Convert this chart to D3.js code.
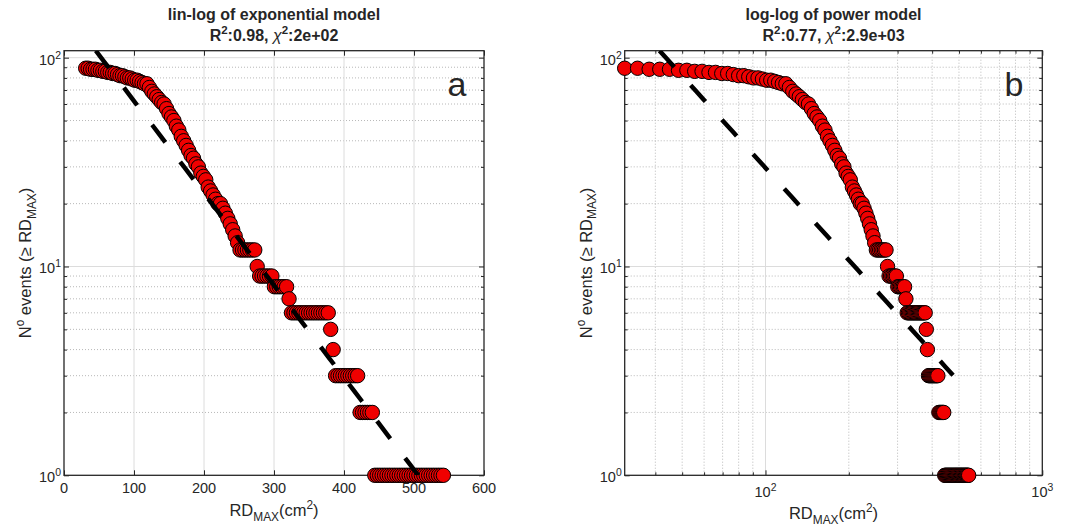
<!DOCTYPE html>
<html>
<head>
<meta charset="utf-8">
<script src="https://cdn.jsdelivr.net/npm/d3@7"></script>
<style>
  html, body { margin: 0; padding: 0; background: #fff; }
  svg text { font-family: "Liberation Sans", Arial, Helvetica, sans-serif; fill: #262626; }
</style>
</head>
<body>
<div id="chart"></div>
<script>
// RD_MAX (cm^2) sample positions and N events (>= RD_MAX)
const rdMax = [31, 34.5, 38, 41.5, 45, 48.5, 52, 55.5, 59, 62.5,
  66, 69.5, 73, 76.5, 80, 83.5, 87, 90.5, 94, 97.5,
  101, 104.5, 108, 111.5, 115, 118.5, 122, 125.5, 129, 132.5,
  136, 139.5, 143, 146.5, 150, 153.5, 157, 160.5, 164, 167.5,
  171, 174.5, 178, 181.5, 185, 188.5, 192, 195.5, 199, 202.5,
  206, 209.5, 213, 216.5, 220, 223.5, 227, 230.5, 234, 237.5,
  241, 244.5, 248, 251.5, 255, 258.5, 262, 265.5, 269, 272.5,
  276, 279.5, 283, 286.5, 290, 293.5, 297, 300.5, 304, 307.5,
  311, 314.5, 318, 321.5, 325, 328.5, 332, 335.5, 339, 342.5,
  346, 349.5, 353, 356.5, 360, 363.5, 367, 370.5, 374, 377.5,
  381, 384.5, 388, 391.5, 395, 398.5, 402, 405.5, 409, 412.5,
  416, 419.5, 423, 426.5, 430, 433.5, 437, 440.5, 444, 447.5,
  451, 454.5, 458, 461.5, 465, 468.5, 472, 475.5, 479, 482.5,
  486, 489.5, 493, 496.5, 500, 503.5, 507, 510.5, 514, 517.5,
  521, 524.5, 528, 531.5, 535, 538.5, 542];

const nEvents = [89, 89, 88, 88, 88, 87, 87, 86, 86, 85,
  85, 84, 84, 83, 82, 82, 81, 80, 80, 79,
  78, 78, 77, 76, 75, 75, 72, 69, 67, 65,
  63, 61, 60, 57, 54, 52, 50, 47, 45, 42,
  40, 38, 36, 34, 33, 31, 30, 28, 27, 26,
  24, 23, 22, 21, 20, 20, 19, 18, 17, 16,
  15, 14, 13, 12, 12, 12, 12, 12, 12, 12,
  10, 9, 9, 9, 9, 9, 9, 8, 8, 8,
  8, 8, 8, 7, 6, 6, 6, 6, 6, 6,
  6, 6, 6, 6, 6, 6, 6, 6, 6, 6,
  5, 4, 3, 3, 3, 3, 3, 3, 3, 3,
  3, 3, 2, 2, 2, 2, 2, 2, 1, 1,
  1, 1, 1, 1, 1, 1, 1, 1, 1, 1,
  1, 1, 1, 1, 1, 1, 1, 1, 1, 1,
  1, 1, 1, 1, 1, 1, 1];

// axis limits and tick values
const yLimits = [1, 108];
const yMajorTicks = [1, 10, 100];
const linXLimits = [0, 600];
const linXTicks = [0, 100, 200, 300, 400, 500, 600];
const logXLimits = [31, 1000];
const logXTicks = [100, 1000];

// fitted models
const expFit = { a: 171.4, decade: 226.5 };          // N = a * 10^(-x/decade)
const powFit = { c: 25360, k: 1.466, xEnd: 476 };    // N = c * x^-k

const width = 1067, height = 528;
const plotTop = 50.7, plotBottom = 475.3;

const svg = d3.select('#chart').append('svg')
  .attr('width', width).attr('height', height);

// text with TeX-like super/subscripts
function rich(sel, parts, size) {
  let shift = 0;
  parts.forEach((p) => {
    const target = p.sup ? -0.42 * size : p.sub ? 0.28 * size : 0;
    const ts = sel.append('tspan').attr('dy', target - shift).text(p.t);
    if (p.sup || p.sub) ts.attr('font-size', size * 0.72);
    if (p.italic) ts.attr('font-style', 'italic').attr('font-weight', 'normal');
    shift = target;
  });
}

const isPow10 = (v) => Math.abs(Math.log10(v) - Math.round(Math.log10(v))) < 1e-9;

function drawPanel(p) {
  const g = svg.append('g');
  const x = (p.logX ? d3.scaleLog() : d3.scaleLinear()).domain(p.xLimits).range([p.left, p.right]);
  const y = d3.scaleLog().domain(yLimits).range([plotBottom, plotTop]);

  const clipId = 'clip-' + p.id;
  svg.append('clipPath').attr('id', clipId).append('rect')
    .attr('x', p.left).attr('y', plotTop)
    .attr('width', p.right - p.left).attr('height', plotBottom - plotTop);

  const yMinor = y.ticks().filter((v) => !isPow10(v));
  const xMajor = p.xTicks;
  const xMinor = p.logX ? x.ticks().filter((v) => !isPow10(v)) : [];

  // grid
  const grid = g.append('g');
  grid.selectAll('.ymin').data(yMinor).enter().append('line')
    .attr('x1', p.left).attr('x2', p.right)
    .attr('y1', (d) => y(d)).attr('y2', (d) => y(d))
    .attr('stroke', '#b8b8b8').attr('stroke-width', 1).attr('stroke-dasharray', '1,2');
  grid.selectAll('.xmin').data(xMinor).enter().append('line')
    .attr('y1', plotTop).attr('y2', plotBottom)
    .attr('x1', (d) => x(d)).attr('x2', (d) => x(d))
    .attr('stroke', '#b8b8b8').attr('stroke-width', 1).attr('stroke-dasharray', '1,2');
  grid.selectAll('.ymaj').data(yMajorTicks.filter((v) => v > yLimits[0])).enter().append('line')
    .attr('x1', p.left).attr('x2', p.right)
    .attr('y1', (d) => y(d)).attr('y2', (d) => y(d))
    .attr('stroke', '#dcdcdc').attr('stroke-width', 1);
  grid.selectAll('.xmaj').data(xMajor.filter((v) => v > p.xLimits[0] && v < p.xLimits[1])).enter().append('line')
    .attr('y1', plotTop).attr('y2', plotBottom)
    .attr('x1', (d) => x(d)).attr('x2', (d) => x(d))
    .attr('stroke', '#dcdcdc').attr('stroke-width', 1);

  // ticks, inward on all four sides
  const noDomain = (s) => s.select('.domain').remove();
  const tickStyle = (s) => s.selectAll('line').attr('stroke', '#262626');
  g.append('g').attr('transform', `translate(0,${plotBottom})`)
    .call(d3.axisBottom(x).tickValues(xMajor).tickSize(-5).tickFormat('')).call(noDomain).call(tickStyle);
  g.append('g').attr('transform', `translate(0,${plotTop})`)
    .call(d3.axisTop(x).tickValues(xMajor).tickSize(-5).tickFormat('')).call(noDomain).call(tickStyle);
  if (xMinor.length) {
    g.append('g').attr('transform', `translate(0,${plotBottom})`)
      .call(d3.axisBottom(x).tickValues(xMinor).tickSize(-3).tickFormat('')).call(noDomain).call(tickStyle);
    g.append('g').attr('transform', `translate(0,${plotTop})`)
      .call(d3.axisTop(x).tickValues(xMinor).tickSize(-3).tickFormat('')).call(noDomain).call(tickStyle);
  }
  g.append('g').attr('transform', `translate(${p.left},0)`)
    .call(d3.axisLeft(y).tickValues(yMajorTicks).tickSize(-5).tickFormat('')).call(noDomain).call(tickStyle);
  g.append('g').attr('transform', `translate(${p.right},0)`)
    .call(d3.axisRight(y).tickValues(yMajorTicks).tickSize(-5).tickFormat('')).call(noDomain).call(tickStyle);
  g.append('g').attr('transform', `translate(${p.left},0)`)
    .call(d3.axisLeft(y).tickValues(yMinor).tickSize(-3).tickFormat('')).call(noDomain).call(tickStyle);
  g.append('g').attr('transform', `translate(${p.right},0)`)
    .call(d3.axisRight(y).tickValues(yMinor).tickSize(-3).tickFormat('')).call(noDomain).call(tickStyle);

  // box
  g.append('rect')
    .attr('x', p.left).attr('y', plotTop)
    .attr('width', p.right - p.left).attr('height', plotBottom - plotTop)
    .attr('fill', 'none').attr('stroke', '#262626').attr('stroke-width', 1.3);

  // tick labels
  const tickSize = 14.5;
  yMajorTicks.forEach((v) => {
    const t = g.append('text').attr('x', p.left - 3).attr('y', y(v) + 7)
      .attr('text-anchor', 'end').attr('font-size', tickSize);
    rich(t, [{ t: '10' }, { t: String(Math.round(Math.log10(v))), sup: true }], tickSize);
  });
  xMajor.forEach((v) => {
    const t = g.append('text').attr('x', x(v)).attr('text-anchor', 'middle').attr('font-size', tickSize);
    if (p.logX) {
      t.attr('y', plotBottom + 22);
      rich(t, [{ t: '10' }, { t: String(Math.round(Math.log10(v))), sup: true }], tickSize);
    } else {
      t.attr('y', plotBottom + 17.5).text(v);
    }
  });

  // axis labels
  const labSize = 16.5;
  const xl = g.append('text').attr('x', (p.left + p.right) / 2).attr('y', p.logX ? 519 : 516)
    .attr('text-anchor', 'middle').attr('font-size', labSize);
  rich(xl, [{ t: 'RD' }, { t: 'MAX', sub: true }, { t: '(cm' }, { t: '2', sup: true }, { t: ')' }], labSize);
  const yl = g.append('text')
    .attr('transform', `translate(${p.left - 33},${(plotTop + plotBottom) / 2}) rotate(-90)`)
    .attr('text-anchor', 'middle').attr('font-size', labSize);
  rich(yl, [{ t: 'N' }, { t: 'o', sup: true }, { t: ' events (\u2265 RD' }, { t: 'MAX', sub: true }, { t: ')' }], labSize);

  // title
  const titleSize = 16;
  const cx = (p.left + p.right) / 2;
  g.append('text').attr('x', cx).attr('y', 20).attr('text-anchor', 'middle')
    .attr('font-size', titleSize).attr('font-weight', 'bold').attr('fill', '#000').text(p.title);
  const t2 = g.append('text').attr('x', cx).attr('y', 41).attr('text-anchor', 'middle')
    .attr('font-size', titleSize).attr('font-weight', 'bold').attr('fill', '#000');
  rich(t2, [{ t: 'R' }, { t: '2', sup: true }, { t: ':' + p.r2 + ', ' }, { t: '\u03c7', italic: true },
    { t: '2', sup: true }, { t: ':' + p.chi2 }], titleSize);

  // panel letter
  g.append('text').attr('x', p.letterX).attr('y', 96).attr('text-anchor', 'middle')
    .attr('font-size', 34).attr('fill', '#000').text(p.letter);

  // data points
  g.append('g').selectAll('circle')
    .data(rdMax)
    .enter()
    .append('circle')
    .attr('cx', (d) => x(d))
    .attr('cy', (_, i) => y(nEvents[i]))
    .attr('r', 7.2)
    .attr('fill', '#f00000')
    .attr('stroke', '#000')
    .attr('stroke-width', 1);

  // fit line, dashed, starts where it enters the axes
  const x0 = Math.max(rdMax[0], p.fitStart);
  const x1 = Math.min(rdMax[rdMax.length - 1], p.fitEnd);
  const xs = p.logX
    ? d3.range(0, 41).map((i) => x0 * Math.pow(x1 / x0, i / 40))
    : d3.range(0, 41).map((i) => x0 + (x1 - x0) * i / 40);
  const line = d3.line().x((d) => x(d)).y((d) => y(p.model(d)));
  g.append('path')
    .datum(xs)
    .attr('clip-path', `url(#${clipId})`)
    .attr('fill', 'none')
    .attr('stroke', '#000')
    .attr('stroke-width', 4.5)
    .attr('stroke-dasharray', '22,24.5')
    .attr('d', line);
}

drawPanel({
  id: 'a', logX: false, xLimits: linXLimits, xTicks: linXTicks,
  left: 64, right: 484, letter: 'a', letterX: 457,
  title: 'lin-log of exponential model', r2: '0.98', chi2: '2e+02',
  model: (v) => expFit.a * Math.pow(10, -v / expFit.decade),
  fitStart: expFit.decade * Math.log10(expFit.a / yLimits[1]),
  fitEnd: expFit.decade * Math.log10(expFit.a / yLimits[0])
});

drawPanel({
  id: 'b', logX: true, xLimits: logXLimits, xTicks: logXTicks,
  left: 624.7, right: 1042.3, letter: 'b', letterX: 1014,
  title: 'log-log of power model', r2: '0.77', chi2: '2.9e+03',
  model: (v) => powFit.c * Math.pow(v, -powFit.k),
  fitStart: Math.pow(powFit.c / yLimits[1], 1 / powFit.k),
  fitEnd: powFit.xEnd
});
</script>
</body>
</html>
